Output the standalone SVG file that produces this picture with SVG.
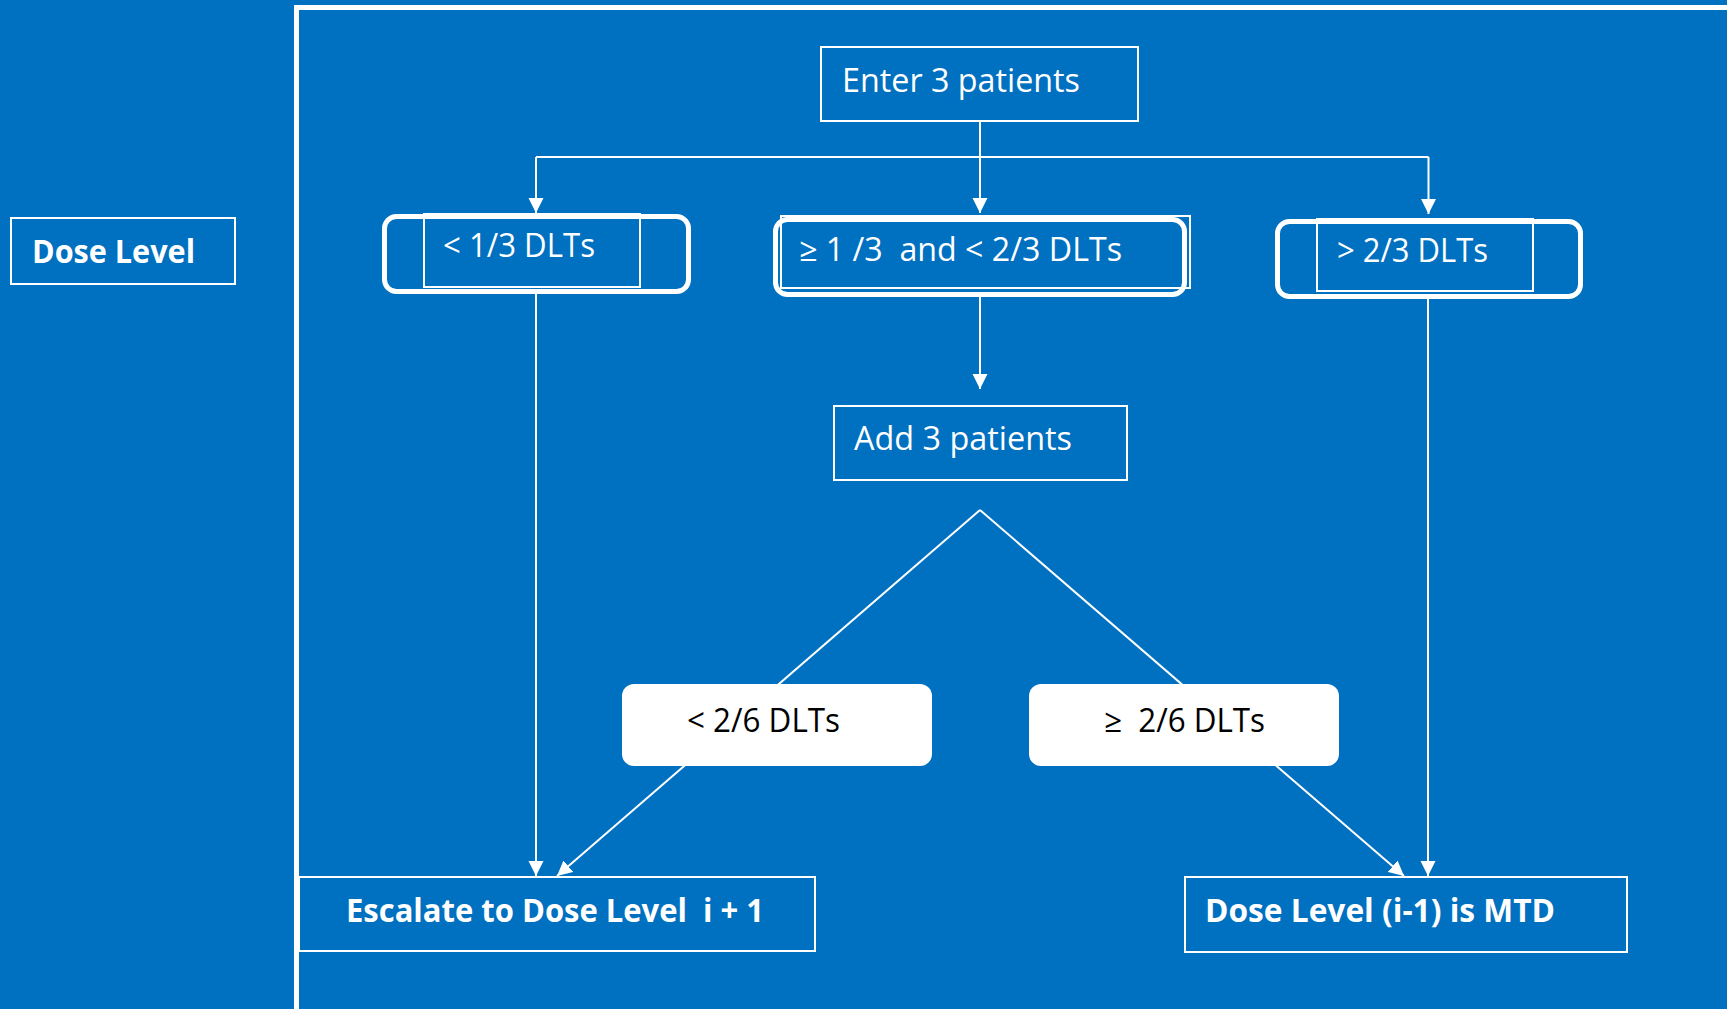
<svg xmlns="http://www.w3.org/2000/svg" width="1727" height="1009" viewBox="0 0 1727 1009">
  <style>
    .box { fill: none; stroke: #ffffff; stroke-width: 2; }
    .thick { fill: none; stroke: #ffffff; stroke-width: 5; }
    .solid { fill: #ffffff; stroke: none; }
    .wire { fill: none; stroke: #ffffff; stroke-width: 2; }
    .t { font-family: "Open Sans", "Noto Sans", sans-serif; font-size: 32px; fill: #ffffff; white-space: pre; }
    .b { font-weight: bold; }
    .dark { fill: #000000; }
  </style>
  <defs>
    <marker id="arrow" markerUnits="userSpaceOnUse" markerWidth="16" markerHeight="16" viewBox="0 0 16 16" refX="15" refY="8" orient="auto">
      <path d="M0,0.5 L15,8 L0,15.5 Z" fill="#ffffff"/>
    </marker>
  </defs>

  <!-- background and outer frame -->
  <rect x="0" y="0" width="1727" height="1009" fill="#0070C0"/>
  <path d="M296.5,1009 V7.5 H1727" fill="none" stroke="#ffffff" stroke-width="5"/>

  <!-- connectors -->
  <g id="connectors">
    <path class="wire" d="M980,121 V157"/>
    <path class="wire" d="M536,157 H1428.5"/>
    <path class="wire" d="M536,157 V213" marker-end="url(#arrow)"/>
    <path class="wire" d="M980,157 V213" marker-end="url(#arrow)"/>
    <path class="wire" d="M1428.5,157 V214" marker-end="url(#arrow)"/>
    <path class="wire" d="M980,297 V389" marker-end="url(#arrow)"/>
    <path class="wire" d="M536,294 V876" marker-end="url(#arrow)"/>
    <path class="wire" d="M1428,299 V876" marker-end="url(#arrow)"/>
    <path class="wire" d="M980,510 L557,876" marker-end="url(#arrow)"/>
    <path class="wire" d="M980,510 L1404,876" marker-end="url(#arrow)"/>
  </g>

  <g id="dose-level">
    <rect class="box" x="11" y="218" width="224" height="66"/>
    <text class="t b" x="32" y="263" font-size="33" textLength="163" lengthAdjust="spacingAndGlyphs">Dose Level</text>
  </g>

  <g id="enter">
    <rect class="box" x="821" y="47" width="317" height="74"/>
    <text class="t" x="842" y="92" textLength="238" lengthAdjust="spacingAndGlyphs">Enter 3 patients</text>
  </g>

  <g id="low-dlt">
    <rect class="thick" x="384.5" y="216.5" width="304" height="75" rx="12"/>
    <rect class="box" x="424" y="214" width="216" height="73"/>
    <text class="t" x="443" y="257" font-size="31" textLength="152" lengthAdjust="spacingAndGlyphs">&lt; 1/3 DLTs</text>
  </g>

  <g id="mid-dlt">
    <rect class="thick" x="775.5" y="219.5" width="409" height="75" rx="12"/>
    <rect class="box" x="781" y="216" width="409" height="72"/>
    <text class="t" x="799" y="261" font-size="31" textLength="323" lengthAdjust="spacingAndGlyphs">≥ 1 /3  and &lt; 2/3 DLTs</text>
  </g>

  <g id="high-dlt">
    <rect class="thick" x="1277.5" y="221.5" width="303" height="75" rx="12"/>
    <rect class="box" x="1317" y="219" width="216" height="72"/>
    <text class="t" x="1337" y="262" font-size="31" textLength="151" lengthAdjust="spacingAndGlyphs">&gt; 2/3 DLTs</text>
  </g>

  <g id="add">
    <rect class="box" x="834" y="406" width="293" height="74"/>
    <text class="t" x="854" y="450" textLength="218" lengthAdjust="spacingAndGlyphs">Add 3 patients</text>
  </g>

  <g id="under-two-sixths">
    <rect class="solid" x="622" y="684" width="310" height="82" rx="12"/>
    <text class="t dark" x="687" y="732" font-size="31" textLength="153" lengthAdjust="spacingAndGlyphs">&lt; 2/6 DLTs</text>
  </g>

  <g id="two-sixths-or-more">
    <rect class="solid" x="1029" y="684" width="310" height="82" rx="12"/>
    <text class="t dark" x="1104" y="732" font-size="31" textLength="161" lengthAdjust="spacingAndGlyphs">≥  2/6 DLTs</text>
  </g>

  <g id="escalate">
    <rect class="box" x="299" y="877" width="516" height="74"/>
    <text class="t b" x="346" y="922" textLength="418" lengthAdjust="spacingAndGlyphs">Escalate to Dose Level  i + 1</text>
  </g>

  <g id="mtd">
    <rect class="box" x="1185" y="877" width="442" height="75"/>
    <text class="t b" x="1205" y="922" textLength="350" lengthAdjust="spacingAndGlyphs">Dose Level (i-1) is MTD</text>
  </g>
</svg>
